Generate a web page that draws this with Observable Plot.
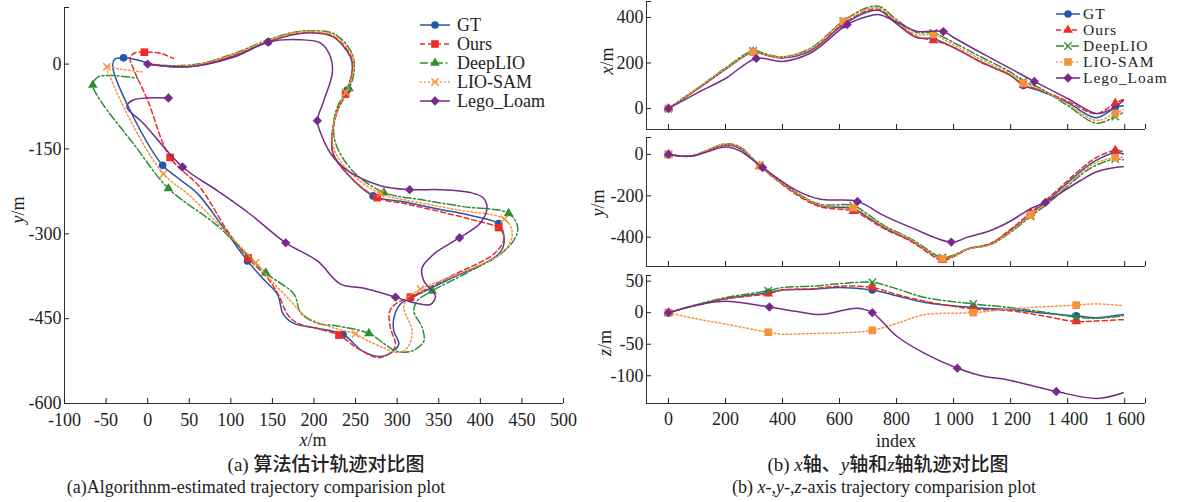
<!DOCTYPE html>
<html><head><meta charset="utf-8">
<script src="https://cdn.jsdelivr.net/npm/d3@7"></script>
<script src="https://cdn.jsdelivr.net/npm/@observablehq/plot@0.6"></script>
<style>
html,body{margin:0;padding:0;background:#fff;}
#root{position:relative;width:1189px;height:502px;overflow:hidden;font-family:"Liberation Serif","Times New Roman",serif;}
#root > div{position:absolute;}
</style></head><body><div id="root">
<div id="pa" style="left:0;top:0"></div>
<div id="p1" style="left:585px;top:0"></div>
<div id="p2" style="left:585px;top:135px"></div>
<div id="p3" style="left:585px;top:270px"></div>
<svg id="ov" width="1189" height="502" style="position:absolute;left:0;top:0;pointer-events:none"></svg>
</div>
<script>
// ================= DATA: (a) trajectories [x, y] in metres =================
const trajGT = [[0,0],[31,-5],[63,-2],[103,14],[145,39],[175,52],[199,55],[223,48],[244,12],[246,-11],[240,-46],[228,-82],[222,-122],[223,-158],[240,-194],[271,-233],[310,-244],[349,-256],[390,-268],[422,-282],[428,-300],[427,-325],[416,-343],[366,-378],[316,-414],[304,-424],[296,-449],[296,-472],[302,-495],[292,-511],[280,-517],[259,-508],[235,-478],[204,-467],[175,-458],[163,-442],[156,-407],[139,-380],[120,-348],[91,-289],[60,-229],[36,-201],[18,-179],[-17,-94],[-42,-5],[-40,8],[-29,11],[-15,8],[0,2]];
const trajOurs = [[0,0],[31,-4],[63,-1],[103,15],[145,40],[175,53],[199,56],[223,49],[245,12],[246,-12],[238,-53],[228,-84],[222,-122],[223,-158],[240,-194],[276,-236],[310,-247],[349,-260],[390,-275],[422,-289],[427,-298],[428,-312],[416,-336],[366,-374],[316,-412],[300,-422],[291,-437],[292,-467],[298,-495],[294,-508],[278,-519],[252,-502],[230,-479],[205,-468],[180,-458],[168,-442],[157,-407],[144,-378],[121,-343],[96,-295],[63,-218],[27,-165],[0,-64],[-18,-5],[-21,12],[-15,20],[-4,21],[15,19],[31,10]];
const trajDeep = [[0,0],[31,-3],[63,1],[103,18],[145,43],[175,56],[199,59],[225,53],[246,18],[248,-16],[242,-43],[230,-70],[224,-99],[226,-140],[246,-188],[284,-227],[330,-240],[380,-252],[434,-264],[445,-289],[440,-312],[424,-336],[385,-368],[342,-401],[324,-419],[320,-437],[330,-466],[332,-490],[318,-507],[300,-508],[286,-496],[266,-476],[228,-463],[204,-458],[184,-440],[176,-407],[142,-369],[84,-286],[25,-220],[-17,-141],[-57,-64],[-66,-37],[-60,-23],[-45,-20],[-12,-25]];
const trajLio = [[0,0],[31,-4],[63,0],[103,17],[145,42],[175,55],[199,58],[224,51],[246,15],[247,-14],[238,-50],[229,-80],[223,-110],[224,-150],[243,-191],[280,-229],[320,-243],[370,-257],[429,-274],[438,-295],[435,-318],[420,-340],[375,-370],[328,-398],[312,-414],[308,-431],[318,-472],[312,-502],[300,-510],[284,-502],[262,-487],[250,-477],[225,-467],[200,-454],[185,-440],[172,-419],[150,-385],[130,-351],[90,-290],[50,-232],[19,-194],[-17,-110],[-45,-23],[-49,-5],[-33,-9],[-5,-14]];
const trajLego = [[0,0],[48,-5],[103,12],[145,39],[184,43],[208,37],[220,12],[222,-16],[212,-64],[204,-100],[208,-122],[220,-158],[240,-188],[280,-215],[315,-222],[352,-222],[388,-227],[403,-236],[408,-254],[400,-281],[375,-307],[344,-336],[330,-360],[332,-383],[346,-410],[340,-425],[320,-422],[298,-412],[259,-396],[232,-389],[204,-348],[166,-316],[123,-265],[84,-224],[42,-182],[-5,-105],[-25,-76],[-18,-64],[25,-60]];
// marker points of (a)
const mkGT = [[-29,11],[18,-179],[120,-348],[235,-478],[316,-414],[422,-282],[271,-233],[240,-46],[145,39]];
const mkOurs = [[-4,21],[27,-165],[121,-343],[230,-479],[316,-412],[422,-289],[276,-236],[238,-53]];
const mkDeep = [[-66,-37],[25,-220],[142,-369],[266,-476],[342,-401],[434,-264],[284,-227],[242,-43]];
const mkLio = [[-49,-5],[19,-194],[130,-351],[250,-477],[328,-398],[429,-274],[280,-229],[238,-50]];
const mkLego = [[0,0],[145,39],[204,-100],[315,-222],[375,-307],[298,-412],[166,-316],[42,-182],[25,-60]];
const xTicksA = [-100,-50,0,50,100,150,200,250,300,350,400,450,500];
const yTicksA = [-600,-450,-300,-150,0];

// ================= DATA: (b) x, y, z versus index =================
const idx1  = [0,100,200,297,350,400,500,613,700,740,800,870,929,1000,1100,1200,1245,1300,1400,1500,1567,1595];
const xGT   = [0,84,172,247,232,222,255,368,425,430,372,312,307,268,202,145,101,79,26,-40,4,12];
const xOurs = [0,85,174,249,233,223,258,372,431,435,376,315,299,268,200,146,104,84,32,-22,24,40];
const xDeep = [0,88,178,253,237,227,266,385,444,448,390,335,332,290,224,160,120,92,13,-64,-35,-17];
const xLio  = [0,87,176,248,235,225,262,382,437,441,383,325,325,280,213,152,111,86,20,-52,-21,-5];
const idx1L = [0,100,200,308,400,500,627,700,740,800,870,964,1000,1100,1200,1283,1400,1500,1550,1595];
const xLego = [0,68,132,220,207,245,369,405,412,380,340,338,312,242,175,119,44,-22,-5,35];
const mk1 = [0,297,613,929,1245,1567], mk1L = [0,308,627,964,1283];

const idx2  = [0,80,200,250,320,450,530,648,700,754,850,961,1000,1050,1130,1200,1270,1330,1450,1500,1567,1595];
const yGT   = [0,-8,46,30,-55,-190,-247,-264,-305,-352,-416,-505,-490,-457,-432,-368,-290,-223,-77,-29,10,2];
const yOurs = [0,-8,47,32,-57,-195,-252,-274,-312,-358,-420,-512,-495,-458,-430,-362,-282,-214,-66,-16,20,12];
const yDeep = [0,-7,52,37,-52,-185,-240,-247,-290,-342,-408,-498,-486,-457,-436,-376,-300,-238,-95,-52,-22,-26];
const yLio  = [0,-7,50,35,-54,-188,-244,-257,-298,-347,-412,-505,-490,-458,-434,-372,-292,-230,-86,-40,-15,-15];
const idx2L = [0,80,200,250,330,450,533,663,754,850,992,1050,1130,1200,1270,1322,1445,1500,1567,1595];
const yLego = [0,-8,36,18,-63,-175,-217,-227,-295,-353,-424,-400,-368,-322,-262,-232,-126,-85,-63,-60];
const mk2 = [0,320,648,961,1270,1567], mk2L = [0,330,663,992,1322];

const idx3  = [0,100,200,350,400,500,600,715,800,900,1069,1200,1300,1430,1500,1595];
const zGT   = [0,12,22,32,36,37,40,36,27,16,8,5,0,-5,-8,-3];
const zOurs = [0,12,22,30,36,38,42,40,29,18,6,3,-4,-14,-13,-11];
const zDeep = [0,13,24,35,40,42,46,48,38,24,14,8,2,-7,-9,-5];
const zLio  = [0,-10,-18,-31,-34,-33,-32,-28,-17,-3,0,6,9,12,14,11];
const idx3L = [0,100,200,354,450,533,663,715,800,900,1013,1118,1175,1360,1504,1595];
const zLego = [0,12,18,9,2,-3,7,0,-37,-65,-88,-102,-105,-125,-136,-127];
const mk3 = [0,350,715,1069,1430], mk3L = [0,354,715,1013,1360];

const xTicksB = [0,200,400,600,800,1000,1200,1400,1600];
const yTicks1 = [0,200,400], yTicks2 = [-400,-200,0], yTicks3 = [-100,-50,0,50];

// ================= STYLE =================
const SER = [
  {name:"GT",        color:"#2456a6", dash:null,          symA:"circle",   symB:"circle"},
  {name:"Ours",      color:"#ec2b26", dash:"5,3",         symA:"square",   symB:"triangle"},
  {name:"DeepLIO",   color:"#2f8e34", dash:"8,2.5,2,2.5", symA:"triangle", symB:"times"},
  {name:"LIO-SAM",   color:"#f6913c", dash:"1.6,2.4",     symA:"times",    symB:"square"},
  {name:"Lego_Loam", color:"#762b8a", dash:null,          symA:"diamond2", symB:"diamond2"}
];
const R = {circle:3.8, square:4.3, triangle:3.6, times:3.4, diamond2:4.2};
const SYM = {circle:d3.symbolCircle, square:d3.symbolSquare, triangle:d3.symbolTriangle, times:d3.symbolTimes, diamond2:d3.symbolDiamond2};
const svgStyle = {background:"transparent", fontFamily:'"Liberation Serif", serif', fontSize:"18px", color:"#222", overflow:"visible"};
const hy = d => String(d);
const fmtIdx = d => d >= 1000 ? `${Math.floor(d/1000)} ${String(d%1000).padStart(3,"0")}` : String(d);

function dotMark(data, x, y, sym, color) {
  const hollow = sym === "times";
  return Plot.dot(data, {x, y, symbol: sym, r: R[sym],
    fill: hollow ? "none" : color, stroke: hollow ? color : "none", strokeWidth: hollow ? 1.4 : 0});
}

// ================= (a) =================
const xDomA = [-100, 500], yDomA = [-600, 100];
const trajs = [trajGT, trajOurs, trajDeep, trajLio, trajLego];
const mksA = [mkGT, mkOurs, mkDeep, mkLio, mkLego];
const marksA = [
  Plot.ruleX([xDomA[0]], {stroke:"#333"}),
  Plot.ruleY([yDomA[0]], {stroke:"#333"}),
  Plot.axisX(xTicksA, {anchor:"bottom", tickSize:-5, tickPadding:15, tickFormat: hy, label:null}),
  Plot.axisY(yTicksA.concat([yDomA[1]]), {anchor:"left", tickSize:-5, tickPadding:8,
    tickFormat: d => yTicksA.includes(d) ? hy(d) : "", label:null})
];
SER.forEach((s, k) => {
  marksA.push(Plot.line(trajs[k], {x: d => d[0], y: d => d[1], stroke: s.color, strokeWidth: 1.5,
    strokeDasharray: s.dash || undefined, curve: "catmull-rom"}));
  marksA.push(dotMark(mksA[k], d => d[0], d => d[1], s.symA, s.color));
});
document.getElementById("pa").append(Plot.plot({
  width: 580, height: 440, marginLeft: 64, marginRight: 17, marginTop: 7, marginBottom: 37,
  x: {domain: xDomA}, y: {domain: yDomA}, style: svgStyle, marks: marksA
}));

// ================= (b) =================
const xDomB = [-77, 1673];
function rows(idx, vals) { return idx.map((i, k) => ({i, v: vals[k]})); }
function panel(el, {height, mt, mb, yDom, yTicks, showX, main, lego}) {
  const marks = [
    Plot.ruleX([xDomB[0]], {stroke:"#333"}),
    Plot.ruleY([yDom[0]], {stroke:"#333"}),
    Plot.axisX(xTicksB.concat([xDomB[1]]), {anchor:"bottom", tickSize:-5, tickPadding:14,
      tickFormat: d => (showX && xTicksB.includes(d)) ? fmtIdx(d) : "", label:null}),
    Plot.axisY(yTicks.concat([yDom[1]]), {anchor:"left", tickSize:-5, tickPadding:8,
      tickFormat: d => yTicks.includes(d) ? hy(d) : "", label:null})
  ];
  SER.forEach((s, k) => {
    const src = k < 4 ? main : lego;
    const data = rows(src.idx, src.vals[k < 4 ? k : 0]);
    const mk = src.mk;
    marks.push(Plot.line(data, {x:"i", y:"v", stroke: s.color, strokeWidth: 1.5,
      strokeDasharray: s.dash || undefined, curve: "catmull-rom"}));
    marks.push(dotMark(data.filter(d => mk.includes(d.i)), "i", "v", s.symB, s.color));
  });
  document.getElementById(el).append(Plot.plot({
    width: 604, height, marginLeft: 61, marginRight: 44, marginTop: mt, marginBottom: mb,
    x: {domain: xDomB}, y: {domain: yDom}, style: svgStyle, marks
  }));
}
panel("p1", {height:135, mt:1, mb:6, yDom:[-92, 470], yTicks: yTicks1, showX:false,
  main:{idx: idx1, vals:[xGT, xOurs, xDeep, xLio], mk: mk1}, lego:{idx: idx1L, vals:[xLego], mk: mk1L}});
panel("p2", {height:135, mt:2, mb:4, yDom:[-542, 82], yTicks: yTicks2, showX:false,
  main:{idx: idx2, vals:[yGT, yOurs, yDeep, yLio], mk: mk2}, lego:{idx: idx2L, vals:[yLego], mk: mk2L}});
panel("p3", {height:190, mt:5, mb:57, yDom:[-144, 59], yTicks: yTicks3, showX:true,
  main:{idx: idx3, vals:[zGT, zOurs, zDeep, zLio], mk: mk3}, lego:{idx: idx3L, vals:[zLego], mk: mk3L}});

// ================= overlay: labels, legends, captions =================
const ov = d3.select("#ov");
const FAM = '"Liberation Serif", "Noto Sans CJK SC", serif';
function label(x, y, parts, {rotate=false, size=18, weight=null}={}) {
  const t = ov.append("text").attr("x", x).attr("y", y).attr("text-anchor", "middle")
    .attr("font-size", size).attr("font-family", FAM).attr("fill", "#222");
  if (weight) t.attr("font-weight", weight);
  if (rotate) t.attr("transform", `rotate(-90 ${x} ${y})`).attr("dy", "0.35em");
  parts.forEach(p => { const ts = t.append("tspan").text(p.t); if (p.i) ts.attr("font-style", "italic").attr("font-weight", "normal"); });
}
label(313, 446, [{t:"x", i:1}, {t:"/m"}]);
label(18, 210, [{t:"y", i:1}, {t:"/m"}], {rotate:true});
label(896, 447, [{t:"index"}]);
label(607, 61, [{t:"x", i:1}, {t:"/m"}], {rotate:true});
label(598, 203, [{t:"y", i:1}, {t:"/m"}], {rotate:true});
label(605, 343, [{t:"z", i:1}, {t:"/m"}], {rotate:true});
label(326, 471, [{t:"(a) 算法估计轨迹对比图"}], {size:19, weight:500});
label(256, 493, [{t:"(a)Algorithnm-estimated trajectory comparision plot"}]);
label(888, 471, [{t:"(b) "}, {t:"x", i:1}, {t:"轴、"}, {t:"y", i:1}, {t:"轴和"}, {t:"z", i:1}, {t:"轴轨迹对比图"}], {size:19, weight:500});
label(884, 493, [{t:"(b) "}, {t:"x", i:1}, {t:"-,"}, {t:"y", i:1}, {t:"-,"}, {t:"z", i:1}, {t:"-axis trajectory comparision plot"}]);

function legend(x0, x1, tx, ys, symKey, size, spacing) {
  SER.forEach((s, k) => {
    const y = ys[k];
    ov.append("line").attr("x1", x0).attr("x2", x1).attr("y1", y).attr("y2", y)
      .attr("stroke", s.color).attr("stroke-width", 1.5).attr("stroke-dasharray", s.dash);
    const sym = s[symKey], hollow = sym === "times";
    ov.append("path").attr("transform", `translate(${(x0 + x1) / 2},${y})`)
      .attr("d", d3.symbol(SYM[sym], Math.PI * R[sym] * R[sym])())
      .attr("fill", hollow ? "none" : s.color).attr("stroke", hollow ? s.color : "none").attr("stroke-width", 1.4);
    ov.append("text").attr("x", tx).attr("y", y).attr("dy", "0.35em").attr("font-size", size)
      .attr("letter-spacing", spacing).attr("font-family", FAM).attr("fill", "#222").text(s.name);
  });
}
legend(420, 450, 457, [25, 44, 63, 82, 101], "symA", 18, 0);
legend(1056, 1080, 1083, [14, 30, 46, 62, 78], "symB", 15.5, 1);
</script></body></html>
